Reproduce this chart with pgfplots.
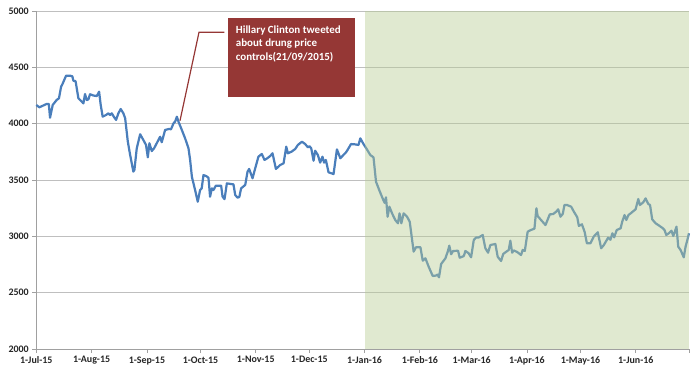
\documentclass[border=0pt]{standalone}
\usepackage{pgfplots}
\pgfplotsset{compat=1.18}
\usepackage{pgfplotstable}
\usepackage{fontspec}
\setmainfont{Carlito}
\definecolor{lineblue}{RGB}{74,126,187}
\definecolor{boxred}{RGB}{149,55,53}
\definecolor{gridgray}{RGB}{191,191,191}
\definecolor{axisgray}{RGB}{160,160,160}
\definecolor{overgreen}{RGB}{184,204,148}
\pgfplotstableread{
day val
0 4166
1.7 4145
5.8 4175
7 4175
7.7 4053
9.2 4166
11.4 4210
12.7 4225
13.9 4328
14.6 4349
16.7 4426
18.9 4426
20.2 4420
20.8 4381
22 4378
23.6 4225
25.5 4195
26.4 4180
27.3 4263
28.3 4210
29.2 4215
30.1 4261
32 4250
33.9 4245
35.2 4284
36.1 4166
37.2 4062
39.1 4077
40.4 4092
41.3 4077
42.3 4092
43.2 4068
44.7 4033
46 4092
47.3 4130
48.8 4092
49.8 4048
51.3 3840
52.6 3722
54.4 3574
55 3590
56.3 3781
58.2 3906
60 3855
61.5 3811
62.5 3701
63.4 3826
64.7 3757
66 3781
67.5 3826
69.4 3884
70.3 3835
72.2 3944
74.4 3953
75.5 3950
76.9 4003
77.8 4018
78.8 4062
79.7 4017
81.2 3959
83.4 3870
85.3 3781
86.2 3680
87.2 3529
89 3411
90.5 3307
91.8 3411
92.7 3426
93.7 3544
95.2 3535
96.5 3520
97.4 3352
98.4 3426
99.3 3411
100.6 3449
103.6 3449
104.4 3352
105.5 3330
106.8 3470
110.5 3461
111.5 3367
112.8 3343
113.8 3350
114.8 3426
117.1 3456
118.4 3574
119.3 3598
121.2 3515
122.7 3604
124.5 3707
126.4 3731
127.9 3678
129.5 3693
131.1 3713
132.4 3737
134.3 3598
136.7 3633
138.6 3648
140.1 3796
141 3737
143.1 3752
145.1 3775
146.6 3811
148.9 3840
150.7 3819
152.2 3790
153.1 3800
154.1 3781
155.4 3671
156.3 3760
157.8 3722
159.1 3654
160.4 3707
161.3 3654
162.3 3678
163.8 3568
166.6 3553
168.5 3772
170.4 3693
171.6 3713
173.6 3746
174.2 3760
176.4 3819
178.8 3816
180.6 3811
181.6 3870
183.4 3819
185.3 3772
187.2 3722
189 3701
190.4 3485
192.2 3411
194.1 3337
195.2 3298
196 3346
196.9 3174
197.9 3263
199.4 3204
201.2 3145
202.7 3116
203.6 3204
204.6 3116
205.9 3204
207.8 3174
209.3 3130
211.5 2864
212.8 2903
215.3 2903
216.6 2784
218.1 2805
219.9 2731
222.2 2648
224 2652
224.9 2660
225.7 2636
226.9 2754
229.3 2805
230.6 2864
231.5 2917
232.5 2841
233.6 2870
236.4 2872
237.3 2810
239.6 2825
240.5 2870
242.3 2850
243.7 2814
245.2 2967
246.5 2990
248 2990
250.2 3012
251.7 2894
253.2 2855
254.5 2923
257.3 2932
258.6 2819
260.5 2781
261.7 2843
263.1 2860
264.8 2879
265.7 2961
266.7 2855
267.6 2875
269.5 2861
271.7 2834
272.6 2879
273.8 2870
275.4 3041
277 3055
279.2 3068
280.3 3249
281 3180
282.9 3145
285.4 3100
287.8 3195
289.7 3198
291.4 3219
292.5 3240
293.8 3174
295.1 3200
296 3278
297.5 3278
299.8 3263
301.3 3219
303.2 3169
304.1 3092
305.8 3107
307.3 3041
308.6 2938
310.6 2938
312.4 2997
314.7 3036
316.6 2894
318.1 2923
320.5 2988
321.8 2970
322.9 3027
323.9 2991
325.3 3056
327.5 3071
328.4 3130
329.7 3189
330.7 3145
331.9 3189
333.6 3210
335.9 3240
337.4 3331
338.3 3278
340.2 3302
341.5 3337
343 3287
344 3278
345.2 3151
347.1 3116
349.9 3086
351.2 3071
352.1 3056
353.1 3012
354.5 3027
356 3050
357 3003
357.9 3041
358.8 3086
359.8 2908
361.1 2879
362.9 2814
363.9 2908
364.9 2967
365.8 3027
}\pricedata
\begin{document}
\begin{tikzpicture}
\useasboundingbox (0,0) rectangle (700bp,374bp);
\begin{axis}[
  at={(36.3bp,25bp)}, anchor=south west,
  scale only axis, width=653bp, height=338bp,
  xmin=0, xmax=366, ymin=2000, ymax=5000,
  axis x line=bottom, axis y line=left,
  axis line style={-, draw=axisgray, line width=0.8bp},
  xtick={0,31,62,92,123,153,184,215,244,275,305,336,366},
  xticklabels={1-Jul-15,1-Aug-15,1-Sep-15,1-Oct-15,1-Nov-15,1-Dec-15,1-Jan-16,1-Feb-16,1-Mar-16,1-Apr-16,1-May-16,1-Jun-16,{}},
  ytick={2000,2500,3000,3500,4000,4500,5000},
  yticklabels={2000,2500,3000,3500,4000,4500,5000},
  tick align=outside, major tick length=4bp,
  tick style={draw=axisgray, line width=0.8bp},
  ymajorgrids, major grid style={draw=gridgray, line width=0.8bp},
  ticklabel style={font=\bfseries\fontsize{10}{12}\selectfont, text=black!85},
  /pgf/number format/assume math mode=true,
  clip=false,
]
\addplot[lineblue, line width=2.2bp, line join=round] table[x=day, y=val] {\pricedata};
\fill[overgreen, fill opacity=0.44] (axis cs:184,2000) rectangle (axis cs:366,5000);
\end{axis}
\fill[boxred] (227.7bp,276.7bp) rectangle (355.3bp,355.7bp);
\draw[boxred, line width=1.2bp] (180bp,253.3bp) -- (199bp,341.7bp) -- (224.3bp,341.7bp);
\begin{scope}[every node/.style={anchor=base west, inner sep=0pt, text=white, font=\bfseries\fontsize{11}{13.5}\selectfont}]
\node at (235.7bp,340.7bp) {Hillary Clinton tweeted};
\node at (235.7bp,327.2bp) {about drung price};
\node at (235.7bp,313.7bp) {controls(21/09/2015)};
\end{scope}
\end{tikzpicture}
\end{document}
